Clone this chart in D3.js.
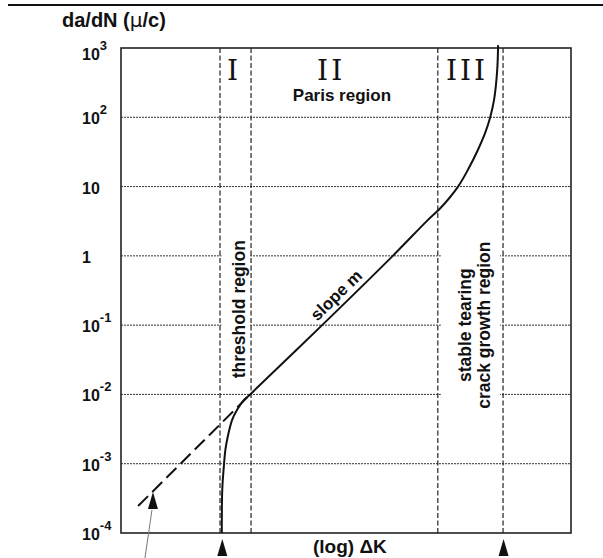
<!DOCTYPE html>
<html lang="en">
<head>
<meta charset="UTF-8">
<title>da/dN vs log dK</title>
<script src="https://d3js.org/d3.v7.min.js"></script>
<style>
  body { margin: 0; background: #fff; }
  svg { display: block; font-family: "Liberation Sans", Arial, sans-serif; }
  .grid-h { stroke: #333; stroke-width: 1; stroke-dasharray: 2,1; }
  .grid-v { stroke: #222; stroke-width: 1.2; stroke-dasharray: 5,2.5; }
  .frame { fill: none; stroke: #222; stroke-width: 1.6; }
  .label { font-weight: bold; fill: #111; }
</style>
</head>
<body>
<svg id="chart" width="603" height="558"></svg>
<script>
// y axis ticks (log scale, da/dN)
const yTicks = [1e3, 1e2, 10, 1, 1e-1, 1e-2, 1e-3, 1e-4];
const yTickBase = ["10", "10", "10", "1", "10", "10", "10", "10"];
const yTickExp = ["3", "2", "", "", "-1", "-2", "-3", "-4"];

// x is (log) dK in arbitrary units, no tick labels
const regionEdges = [2.2, 2.89, 7.04, 8.49];
const regionNames = ["I", "II", "III"];
const regionNameX = [2.51, 4.67, 7.69];

// crack growth curve
const curveX = [2.24, 2.25, 2.29, 2.32, 2.38, 2.47, 2.58, 2.71, 2.87, 4.47, 6.04, 6.8, 7.1, 7.49, 7.73, 7.93, 8.09, 8.2, 8.29, 8.36, 8.38];
const curveY = [1e-4, 4.2e-4, 1e-3, 1.6e-3, 2.6e-3, 4.3e-3, 6e-3, 8e-3, 1e-2, 0.1, 1, 3.2, 4.9, 10, 18.5, 33.7, 59, 98, 178, 480, 1100];

// extrapolated Paris line (dashed)
const extrapX = [0.38, 2.87];
const extrapY = [2.45e-4, 1e-2];

// arrow annotations
const arrowBottomX = [2.24, 8.49];
const arrowExtrap = [0.71, 3.9e-4];

const svg = d3.select("#chart");
const margin = { left: 121, right: 32, top: 48, bottom: 25 };
const W = 603, H = 558;

const x = d3.scaleLinear().domain([0, 10]).range([margin.left, W - margin.right]);
const y = d3.scaleLog().domain([1e-4, 1e3]).range([H - margin.bottom, margin.top]);

// top rule
svg.append("line")
  .attr("x1", 8).attr("x2", W).attr("y1", 5).attr("y2", 5)
  .attr("stroke", "#111").attr("stroke-width", 2);

// horizontal grid
svg.append("g").selectAll("line")
  .data(yTicks.slice(1, -1))
  .join("line")
  .attr("class", "grid-h")
  .attr("x1", x(0)).attr("x2", x(10))
  .attr("y1", d => y(d)).attr("y2", d => y(d));

// vertical region boundaries
svg.append("g").selectAll("line")
  .data(regionEdges)
  .join("line")
  .attr("class", "grid-v")
  .attr("x1", d => x(d)).attr("x2", d => x(d))
  .attr("y1", y(1e3)).attr("y2", y(1e-4));

// white patches behind the vertical labels (grid breaks)
svg.append("rect")
  .attr("x", x(regionEdges[0]) + 1.5).attr("width", x(regionEdges[1]) - x(regionEdges[0]) - 3)
  .attr("y", y(1.6)).attr("height", y(0.016) - y(1.6))
  .attr("fill", "#fff");
svg.append("rect")
  .attr("x", x(regionEdges[2]) + 3).attr("width", x(regionEdges[3]) - x(regionEdges[2]) - 6)
  .attr("y", y(2.5)).attr("height", y(0.0045) - y(2.5))
  .attr("fill", "#fff");

// frame
svg.append("rect")
  .attr("class", "frame")
  .attr("x", x(0)).attr("y", y(1e3))
  .attr("width", x(10) - x(0)).attr("height", y(1e-4) - y(1e3));

// y tick labels
const tl = svg.append("g").selectAll("text")
  .data(yTicks)
  .join("text")
  .attr("class", "label")
  .attr("x", 82)
  .attr("y", (d, i) => y(d) + (i === 0 ? 12 : 7))
  .attr("font-size", 16);
tl.append("tspan").text((d, i) => yTickBase[i]);
tl.append("tspan")
  .attr("font-size", 13)
  .attr("dy", -10)
  .text((d, i) => yTickExp[i]);

// title
const title = svg.append("text")
  .attr("class", "label")
  .attr("x", 62).attr("y", 27)
  .attr("font-size", 20);
title.append("tspan").text("da/dN (");
title.append("tspan").attr("font-weight", "normal").attr("font-family", "DejaVu Sans").text("\u03bc");
title.append("tspan").text("/c)");

// x label
svg.append("text")
  .attr("class", "label")
  .attr("x", 313).attr("y", 553)
  .attr("font-size", 19)
  .text("(log) \u0394K");

// curves
const line = d3.line().x(d => x(d[0])).y(d => y(d[1])).curve(d3.curveCatmullRom.alpha(0.5));
svg.append("path")
  .datum(curveX.map((v, i) => [v, curveY[i]]))
  .attr("d", line)
  .attr("fill", "none").attr("stroke", "#111").attr("stroke-width", 2);

svg.append("path")
  .datum(extrapX.map((v, i) => [v, extrapY[i]]))
  .attr("d", d3.line().x(d => x(d[0])).y(d => y(d[1])))
  .attr("fill", "none").attr("stroke", "#111").attr("stroke-width", 2)
  .attr("stroke-dasharray", "14,6");

// region numerals
svg.append("g").selectAll("text")
  .data(regionNames)
  .join("text")
  .attr("x", (d, i) => x(regionNameX[i]))
  .attr("y", 80)
  .attr("text-anchor", "middle")
  .attr("font-family", "DejaVu Serif")
  .attr("font-size", 28)
  .attr("letter-spacing", 3)
  .attr("fill", "#111")
  .text(d => d);

svg.append("text")
  .attr("class", "label")
  .attr("x", x(4.91)).attr("y", 101)
  .attr("text-anchor", "middle")
  .attr("font-size", 17)
  .text("Paris region");

// rotated labels
function vlabel(xv, yv, txt) {
  svg.append("text")
    .attr("class", "label")
    .attr("font-size", 17.5)
    .attr("text-anchor", "middle")
    .attr("transform", `translate(${x(xv)},${y(yv)}) rotate(-90)`)
    .text(txt);
}
vlabel(2.76, 0.17, "threshold region");
vlabel(7.78, 0.1, "stable tearing");
vlabel(8.2, 0.1, "crack growth region");

// slope label along the straight part
const ang = Math.atan2(y(4.2) - y(1e-2), x(7.02) - x(2.87)) * 180 / Math.PI;
svg.append("text")
  .attr("class", "label")
  .attr("font-size", 17)
  .attr("text-anchor", "middle")
  .attr("transform", `translate(${x(4.95)},${y(0.21)}) rotate(${ang})`)
  .attr("dy", -5)
  .text("slope m");

// arrows: tall narrow triangles, tip at (0,0)
const tri = "M0,0 L5,17 L-5,17 Z";
svg.append("g").selectAll("path")
  .data(arrowBottomX)
  .join("path")
  .attr("d", tri)
  .attr("transform", d => `translate(${x(d) + 0.5},${y(1e-4) + 6})`)
  .attr("fill", "#111");

svg.append("path")
  .attr("d", tri)
  .attr("transform", `translate(${x(arrowExtrap[0])},${y(arrowExtrap[1])})`)
  .attr("fill", "#111");
svg.append("line")
  .attr("x1", x(arrowExtrap[0]) - 1).attr("y1", y(arrowExtrap[1]) + 18)
  .attr("x2", x(arrowExtrap[0]) - 8).attr("y2", H)
  .attr("stroke", "#777").attr("stroke-width", 1);
</script>
</body>
</html>
